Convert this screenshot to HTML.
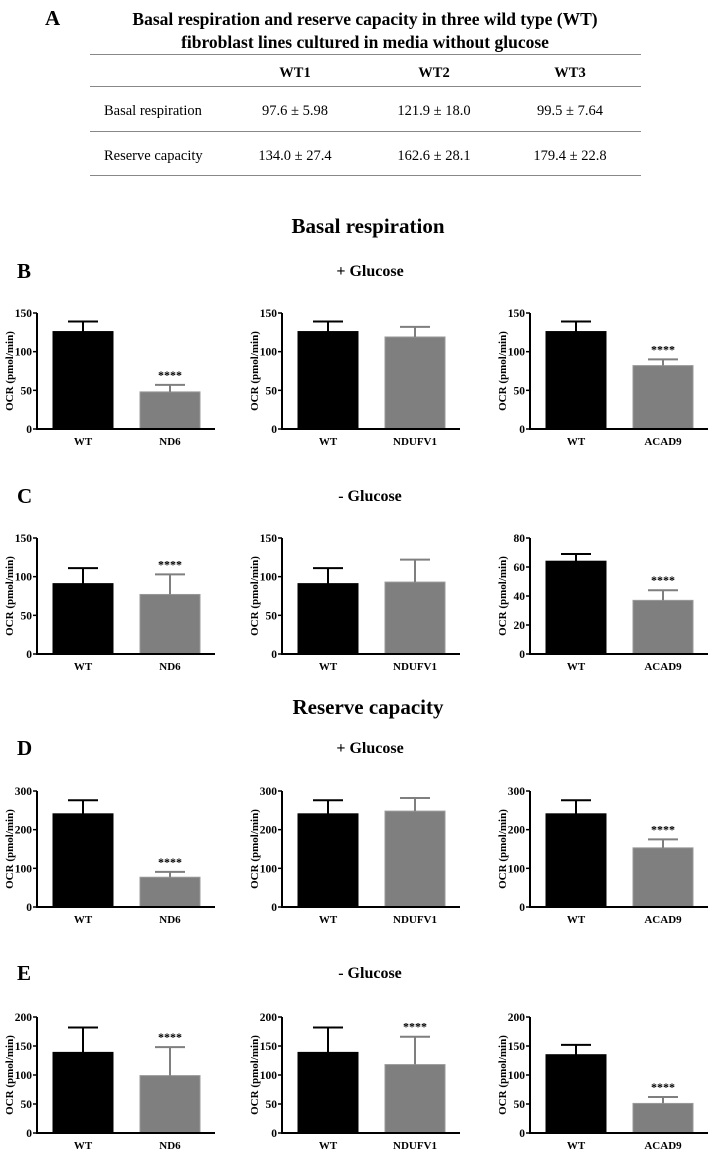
<!DOCTYPE html>
<html><head><meta charset="utf-8"><style>
html,body{margin:0;padding:0;background:#fff;}
svg{display:block;font-family:"Liberation Serif",serif;}
</style></head><body>
<svg id="fig" width="709" height="1150" viewBox="0 0 709 1150">
<g font-size="14.5">
<text x="45" y="25" font-size="21" font-weight="bold">A</text>
<text x="365" y="25" text-anchor="middle" font-size="17.5" font-weight="bold">Basal respiration and reserve capacity in three wild type (WT)</text>
<text x="365" y="48" text-anchor="middle" font-size="17.5" font-weight="bold">fibroblast lines cultured in media without glucose</text>
<line x1="90" y1="54.5" x2="641" y2="54.5" stroke="#888" stroke-width="1"/>
<line x1="90" y1="86.5" x2="641" y2="86.5" stroke="#888" stroke-width="1"/>
<line x1="90" y1="131.5" x2="641" y2="131.5" stroke="#888" stroke-width="1"/>
<line x1="90" y1="175.5" x2="641" y2="175.5" stroke="#888" stroke-width="1"/>
<text x="295" y="77" text-anchor="middle" font-weight="bold">WT1</text>
<text x="434" y="77" text-anchor="middle" font-weight="bold">WT2</text>
<text x="570" y="77" text-anchor="middle" font-weight="bold">WT3</text>
<text x="104" y="115">Basal respiration</text>
<text x="295" y="115" text-anchor="middle">97.6 ± 5.98</text>
<text x="434" y="115" text-anchor="middle">121.9 ± 18.0</text>
<text x="570" y="115" text-anchor="middle">99.5 ± 7.64</text>
<text x="104" y="160">Reserve capacity</text>
<text x="295" y="160" text-anchor="middle">134.0 ± 27.4</text>
<text x="434" y="160" text-anchor="middle">162.6 ± 28.1</text>
<text x="570" y="160" text-anchor="middle">179.4 ± 22.8</text>
</g>
<g font-weight="bold">
<text x="368" y="233" text-anchor="middle" font-size="21">Basal respiration</text>
<text x="368" y="714" text-anchor="middle" font-size="21">Reserve capacity</text>
<text x="17" y="278" font-size="21">B</text>
<text x="17" y="503" font-size="21">C</text>
<text x="17" y="755" font-size="21">D</text>
<text x="17" y="980" font-size="21">E</text>
<text x="370" y="276" text-anchor="middle" font-size="16">+  Glucose</text>
<text x="370" y="501" text-anchor="middle" font-size="16">- Glucose</text>
<text x="370" y="753" text-anchor="middle" font-size="16">+ Glucose</text>
<text x="370" y="978" text-anchor="middle" font-size="16">- Glucose</text>
</g>
</svg>
<script>
const categories = [["WT","ND6"],["WT","NDUFV1"],["WT","ACAD9"]];
const rowMax = [[150,150,150],[150,150,80],[300,300,300],[200,200,200]];
const rowStep = [[50,50,50],[50,50,20],[100,100,100],[50,50,50]];
const meansB = [[126,48],[126,119],[126,82]];
const errsB = [[13,9],[13,13],[13,8]];
const starsB = [false,true,false,false,false,true];
const meansC = [[91,77],[91,93],[64,37]];
const errsC = [[20,26],[20,29],[5,7]];
const starsC = [false,true,false,false,false,true];
const meansD = [[241,77],[241,248],[241,153]];
const errsD = [[35,14],[35,34],[35,22]];
const starsD = [false,true,false,false,false,true];
const meansE = [[139,99],[139,118],[135,51]];
const errsE = [[43,49],[43,48],[17,11]];
const starsE = [false,true,false,true,false,true];

const means = [meansB,meansC,meansD,meansE];
const errs = [errsB,errsC,errsD,errsE];
const stars = [starsB,starsC,starsD,starsE];
const rowNames = ["b","c","d","e"];
const zeroY = [429,654,907,1133];
const plotH = 116;
const axisX = [37,282,530];
const svg = document.getElementById('fig');
const NS = 'http://www.w3.org/2000/svg';
function mk(tag, attrs, parent){const e=document.createElementNS(NS,tag);for(const k in attrs)e.setAttribute(k,attrs[k]);parent.appendChild(e);return e;}

for(let r=0;r<4;r++){
  for(let c=0;c<3;c++){
    const g = mk('g',{},svg);
    
    
    const x0 = axisX[c], y0 = zeroY[r], max=rowMax[r][c], step=rowStep[r][c];
    const yS = v => y0 - v/max*plotH;
    const xBar = i => x0 + 16 + i*87;
    const bw = 60;
    for(let i=0;i<2;i++){
      const m = means[r][c][i], e = errs[r][c][i];
      const col = i===0 ? '#000' : '#7f7f7f';
      const bar = mk('rect',{x:xBar(i),y:yS(m),width:bw,height:y0-yS(m),fill:col,stroke:i===0?'#000':'#9a9a9a','stroke-width':1},g);
      
      
      const cx = xBar(i)+bw/2;
      const eb = mk('path',{d:`M${cx},${yS(m)} V${yS(m+e)} M${cx-15},${yS(m+e)} H${cx+15}`,stroke:col,'stroke-width':2,fill:'none'},g);
      
      
      if(stars[r][c*2+i]){
        const st = mk('text',{x:cx,y:yS(m+e)-6,'text-anchor':'middle','font-size':12,'font-weight':'bold'},g);
        st.textContent='****';
        
        
      }
      const lab = mk('text',{x:cx,y:y0+16,'text-anchor':'middle','font-size':11,'font-weight':'bold'},g);
      lab.textContent = categories[c][i];
      
      
    }
    const ax = mk('path',{d:`M${x0},${y0-plotH} V${y0} H${x0+178}`,stroke:'#000','stroke-width':2,fill:'none'},g);
    
    
    for(let v=0; v<=max; v+=step){
      mk('line',{x1:x0-4,x2:x0,y1:yS(v),y2:yS(v),stroke:'#000','stroke-width':1.5},g);
      const t = mk('text',{x:x0-5,y:yS(v)+4,'text-anchor':'end','font-size':11.5,'font-weight':'bold'},g);
      t.textContent = v;
      
      
    }
    const yt = mk('text',{x:0,y:0,'text-anchor':'middle','font-size':11,'font-weight':'bold',transform:`translate(${x0-24},${y0-plotH/2}) rotate(-90)`},g);
    yt.textContent='OCR (pmol/min)';
    
    
  }
}
</script>
</body></html>
